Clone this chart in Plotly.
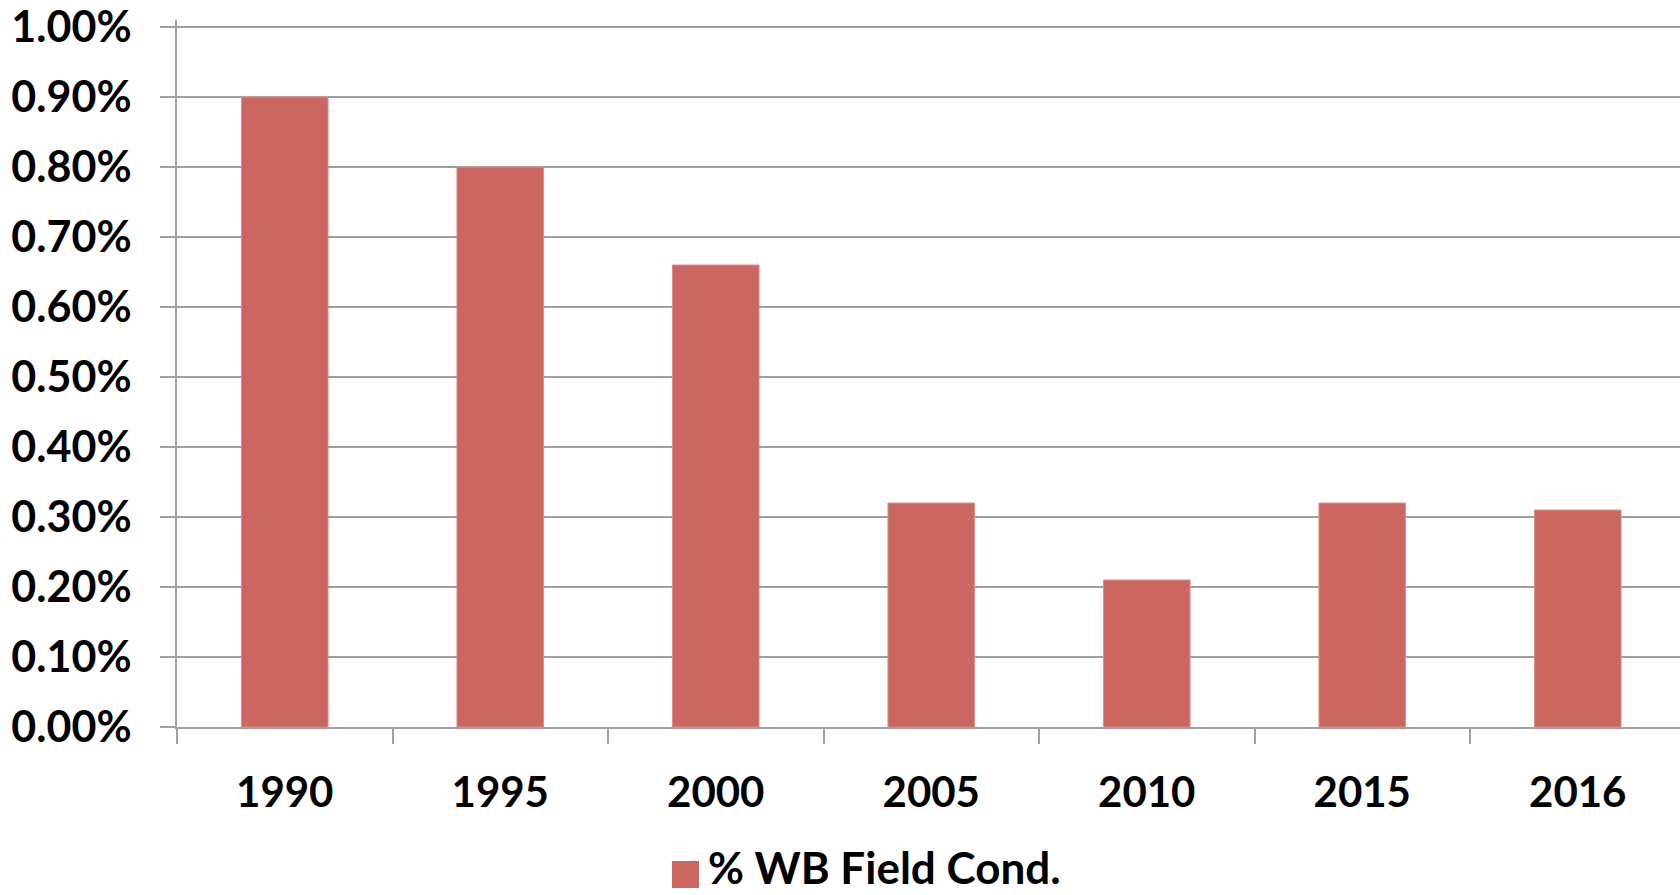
import plotly.graph_objects as go

years = ["1990", "1995", "2000", "2005", "2010", "2015", "2016"]
values = [0.0090, 0.0080, 0.0066, 0.0032, 0.0021, 0.0032, 0.0031]
series_name = "% WB Field Cond."
y_ticks = [0.0, 0.001, 0.002, 0.003, 0.004, 0.005, 0.006, 0.007, 0.008, 0.009, 0.010]

BAR = "#CC6661"
GRID = "#A0A0A0"
FAM = "Lato, 'Open Sans', sans-serif"
YFONT = dict(family=FAM, size=43, color="#000000", weight="bold")
XFONT = dict(family=FAM, size=42, color="#000000", weight="bold")
LFONT = dict(family=FAM, size=44, color="#000000", weight="bold")

# body margin is removed in the page, so figure coords = page coords
Y_MAX = 0.0101
px_per_unit = 700 / 0.010
W, H = 1680, 895
ph = round(Y_MAX * px_per_unit)
L, R = 177, 0
T = 27 - (ph - 700)
B = H - T - ph
pw = W - L - R
cat_w = 215.5

fig = go.Figure()
fig.add_trace(go.Bar(
    x=years, y=values, name=series_name, showlegend=False,
    marker=dict(color=BAR, line=dict(color="#DE8F8B", width=1)),
))

fig.update_layout(
    width=W, height=H,
    margin=dict(l=L, r=R, t=T, b=B, pad=0, autoexpand=False),
    paper_bgcolor="white", plot_bgcolor="white",
    bargap=1 - 86.6 / cat_w,
    showlegend=False,
    font=XFONT,
)
fig.update_xaxes(
    type="category", automargin=False,
    range=[-0.5, -0.5 + pw / cat_w],
    tickson="boundaries",
    ticks="outside", ticklen=15, tickwidth=1.5, tickcolor=GRID,
    showline=True, linecolor=GRID, linewidth=1.5,
    showgrid=False,
    tickfont=XFONT,
    ticklabelstandoff=28,
)
fig.update_yaxes(
    automargin=False,
    range=[0, Y_MAX],
    tickvals=y_ticks,
    tickformat=".2%",
    ticks="outside", ticklen=15, tickwidth=1.5, tickcolor=GRID,
    showline=True, linecolor=GRID, linewidth=1.5,
    showgrid=True, gridcolor=GRID, gridwidth=1.5,
    zeroline=False,
    tickfont=YFONT,
    ticklabelstandoff=20,
    ticklabeloverflow="allow",
)

# legend drawn as a swatch + text below the plot (page pixel coords)
def px_x(x):
    return (x - L) / pw

def px_y(y):
    return (H - B - y) / ph

fig.add_shape(type="rect", xref="paper", yref="paper",
              x0=px_x(672), x1=px_x(699), y0=px_y(888), y1=px_y(861),
              fillcolor=BAR, line=dict(width=0))
fig.add_annotation(xref="paper", yref="paper", x=px_x(706), y=px_y(895),
                   xanchor="left", yanchor="bottom", showarrow=False,
                   text=series_name, font=LFONT)

fig.write_html("out.html",
               config={"displayModeBar": False},
               post_script="document.body.style.margin='0';document.body.style.overflow='hidden';")
